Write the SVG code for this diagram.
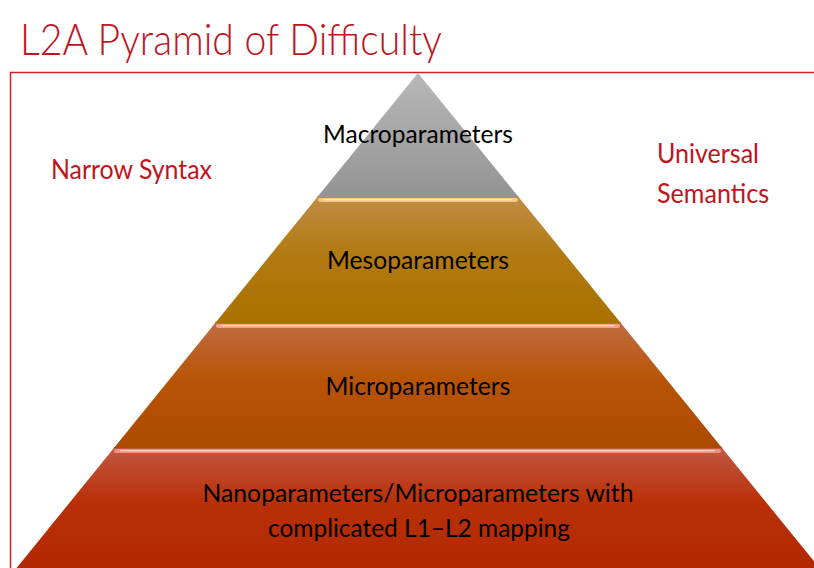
<svg xmlns="http://www.w3.org/2000/svg" width="814" height="568" viewBox="0 0 814 568">
  <defs>
    <linearGradient id="gGray" x1="0" y1="0" x2="0" y2="1">
      <stop offset="0" stop-color="#b8b8b8"/>
      <stop offset="1" stop-color="#939393"/>
    </linearGradient>
    <linearGradient id="gGold" x1="0" y1="0" x2="0" y2="1">
      <stop offset="0" stop-color="#bf8d45"/>
      <stop offset="0.45" stop-color="#b27a12"/>
      <stop offset="1" stop-color="#a87100"/>
    </linearGradient>
    <linearGradient id="gOrange" x1="0" y1="0" x2="0" y2="1">
      <stop offset="0" stop-color="#c06c42"/>
      <stop offset="0.45" stop-color="#b85406"/>
      <stop offset="1" stop-color="#ac4a00"/>
    </linearGradient>
    <linearGradient id="gRed" x1="0" y1="0" x2="0" y2="1">
      <stop offset="0" stop-color="#c15842"/>
      <stop offset="0.45" stop-color="#b93008"/>
      <stop offset="1" stop-color="#b32800"/>
    </linearGradient>
    <linearGradient id="shine" x1="0" y1="0" x2="0" y2="1">
      <stop offset="0" stop-color="#ffffff" stop-opacity="0.35"/>
      <stop offset="0.5" stop-color="#ffffff" stop-opacity="0.8"/>
      <stop offset="1" stop-color="#ffffff" stop-opacity="0.2"/>
    </linearGradient>
  </defs>
  <style>
    .title { font-family: Lato, "Liberation Sans", sans-serif; font-weight: 300; font-size: 44px; fill: #c0141c; }
    .side { font-family: Lato, "Liberation Sans", sans-serif; font-size: 26px; fill: #c0141c; }
    .lbl { font-family: Lato, "Liberation Sans", sans-serif; font-size: 25px; fill: #000000; text-anchor: middle; }
    .frame { fill: none; stroke: #d42027; stroke-width: 1.5; }
    .edge { stroke-width: 1.2; fill: none; }
  </style>

  <rect width="814" height="568" fill="#ffffff"/>

  <!-- heading and frame -->
  <text class="title" x="20" y="55" textLength="422" lengthAdjust="spacingAndGlyphs">L2A Pyramid of Difficulty</text>
  <path class="frame" d="M814,72.5 H10.5 V568"/>

  <!-- side captions -->
  <text class="side" x="51" y="179" textLength="161" lengthAdjust="spacingAndGlyphs">Narrow Syntax</text>
  <text class="side" x="657" y="163" textLength="102" lengthAdjust="spacingAndGlyphs">Universal</text>
  <text class="side" x="657" y="203" textLength="112" lengthAdjust="spacingAndGlyphs">Semantics</text>

  <!-- pyramid tiers, bottom to top -->
  <g id="tier-nano">
    <polygon points="113.9,448 722.1,448 819.4,568 16.6,568" fill="url(#gRed)"/>
    <line class="edge" x1="113.9" y1="447.5" x2="722.1" y2="447.5" stroke="#8a3600"/>
    <rect x="114" y="449" width="607" height="4" rx="2" fill="#f2907a"/>
    <rect x="120" y="450" width="595" height="1.6" fill="url(#shine)"/>
    <text class="lbl" x="418" y="502" textLength="431" lengthAdjust="spacingAndGlyphs">Nanoparameters/Microparameters with</text>
    <text class="lbl" x="419" y="537" textLength="302" lengthAdjust="spacingAndGlyphs">complicated L1–L2 mapping</text>
  </g>

  <g id="tier-micro">
    <polygon points="215.2,323 620.8,323 722.1,448 113.9,448" fill="url(#gOrange)"/>
    <line class="edge" x1="215.2" y1="322.5" x2="620.8" y2="322.5" stroke="#8a5a00"/>
    <rect x="216" y="324" width="404" height="4" rx="2" fill="#f3a283"/>
    <rect x="222" y="325" width="392" height="1.6" fill="url(#shine)"/>
    <text class="lbl" x="418" y="395" textLength="185" lengthAdjust="spacingAndGlyphs">Microparameters</text>
  </g>

  <g id="tier-meso">
    <polygon points="317.4,197 518.6,197 620.8,323 215.2,323" fill="url(#gGold)"/>
    <line class="edge" x1="317.4" y1="196.5" x2="518.6" y2="196.5" stroke="#7c7c7c"/>
    <rect x="318" y="198" width="200" height="4" rx="2" fill="#f6c77e"/>
    <rect x="324" y="199" width="188" height="1.6" fill="url(#shine)"/>
    <text class="lbl" x="418" y="269" textLength="182" lengthAdjust="spacingAndGlyphs">Mesoparameters</text>
  </g>

  <g id="tier-macro">
    <polygon points="418,73 518.6,197 317.4,197" fill="url(#gGray)"/>
    <text class="lbl" x="418" y="143" textLength="190" lengthAdjust="spacingAndGlyphs">Macroparameters</text>
  </g>
</svg>
